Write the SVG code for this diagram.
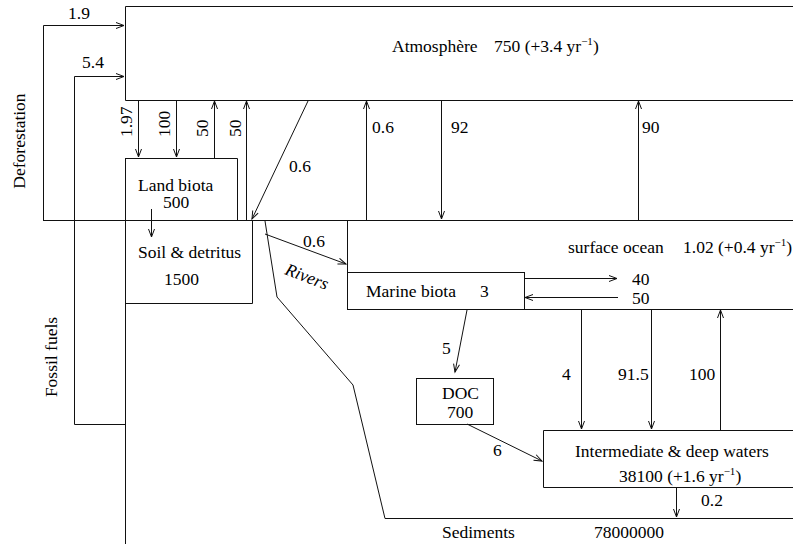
<svg xmlns="http://www.w3.org/2000/svg" width="793" height="544" viewBox="0 0 793 544">
<style>
text{font-family:"Liberation Serif","Times New Roman",serif;font-size:17.5px;fill:#000}
.sup{font-size:11px}
.ln{stroke:#111;stroke-width:1;fill:none}
.ar{stroke:#111;stroke-width:1;fill:none;marker-end:url(#ah)}
</style>
<defs>
<marker id="ah" markerUnits="userSpaceOnUse" markerWidth="12" markerHeight="10" viewBox="-10 -5 12 10" refX="0" refY="0" orient="auto">
<path d="M-8,-3 L0,0 L-8,3" fill="none" stroke="#111" stroke-width="1"/>
</marker>
</defs>
<rect width="793" height="544" fill="#fff"/>
<g id="atmosphere">
<path class="ln" d="M793,6.5 H125.5 V100.5 H793"/>
<text x="392" y="52">Atmosphère</text>
<text x="494" y="52">750 (+3.4 yr<tspan class="sup" dy="-7">−1</tspan><tspan dy="7">)</tspan></text>
</g>
<g id="ground">
<path class="ln" d="M43,220.5 H793"/>
<path class="ln" d="M125.5,158 V544"/>
</g>
<g id="land-biota">
<path class="ln" d="M125.5,158.5 H237.5 V220"/>
<text x="138" y="191">Land biota</text>
<text x="163" y="208">500</text>
</g>
<g id="soil">
<path class="ln" d="M252.5,220 V303.5 H125.5"/>
<text x="138" y="258">Soil &amp; detritus</text>
<text x="164" y="285">1500</text>
</g>
<g id="surface-ocean">
<path class="ln" d="M347.5,220 V272 M524,309.5 H793"/>
<text x="568" y="253">surface ocean</text>
<text x="683" y="253">1.02 (+0.4 yr<tspan class="sup" dy="-7">−1</tspan><tspan dy="7">)</tspan></text>
</g>
<g id="marine-biota">
<rect class="ln" x="347.5" y="272.5" width="177" height="37"/>
<text x="366" y="297">Marine biota</text>
<text x="480" y="297">3</text>
</g>
<g id="doc">
<rect class="ln" x="416.5" y="378.5" width="77" height="46"/>
<text x="442" y="399">DOC</text>
<text x="447" y="418">700</text>
</g>
<g id="deep-waters">
<path class="ln" d="M793,430.5 H543.5 V487.5 H793"/>
<text x="575" y="457">Intermediate &amp; deep waters</text>
<text x="619" y="482">38100 (+1.6 yr<tspan class="sup" dy="-7">−1</tspan><tspan dy="7">)</tspan></text>
</g>
<g id="sediments">
<path class="ln" d="M385,518.5 H793"/>
<text x="442" y="538">Sediments</text>
<text x="594" y="538">78000000</text>
</g>
<g id="connectors">
<path class="ar" d="M43.5,220 V25.5 H124"/>
<path class="ar" d="M125,424.5 H74.5 V76.5 H124"/>
<path class="ar" d="M138.5,101 V157"/>
<path class="ar" d="M176.5,101 V157"/>
<path class="ar" d="M214.5,158 V101"/>
<path class="ar" d="M246.5,220 V101"/>
<path class="ar" d="M308,101 L252,219"/>
<path class="ar" d="M151.5,209 V237"/>
<path class="ar" d="M366.5,220 V101"/>
<path class="ar" d="M441.5,101 V219"/>
<path class="ar" d="M638.5,220 V101"/>
<path class="ln" d="M265,221 L277,297 L353,385 L385,518.5"/>
<path class="ar" d="M265,234 L346,264"/>
<path class="ar" d="M524,278.5 H617"/>
<path class="ar" d="M618,297.5 H525"/>
<path class="ar" d="M467,310 L455,372"/>
<path class="ar" d="M467,424 L542,461"/>
<path class="ar" d="M581.5,310 V429"/>
<path class="ar" d="M651.5,310 V429"/>
<path class="ar" d="M720.5,430 V310"/>
<path class="ar" d="M676.5,488 V517"/>
</g>
<g id="labels">
<text x="68" y="19">1.9</text>
<text x="82" y="68">5.4</text>
<text transform="translate(25,141) rotate(-90)" text-anchor="middle">Deforestation</text>
<text transform="translate(57,357) rotate(-90)" text-anchor="middle">Fossil fuels</text>
<text transform="translate(132,137) rotate(-90)">1.97</text>
<text transform="translate(170,137) rotate(-90)">100</text>
<text transform="translate(208,137) rotate(-90)">50</text>
<text transform="translate(241,137) rotate(-90)">50</text>
<text x="289" y="172">0.6</text>
<text x="372" y="133">0.6</text>
<text x="451" y="133">92</text>
<text x="642" y="133">90</text>
<text x="303" y="247">0.6</text>
<text transform="translate(284,274) rotate(21)" font-style="italic">Rivers</text>
<text x="632" y="285">40</text>
<text x="632" y="304">50</text>
<text x="442" y="354">5</text>
<text x="493" y="456">6</text>
<text x="562" y="380">4</text>
<text x="618" y="380">91.5</text>
<text x="689" y="380">100</text>
<text x="701" y="506">0.2</text>
</g>
</svg>
